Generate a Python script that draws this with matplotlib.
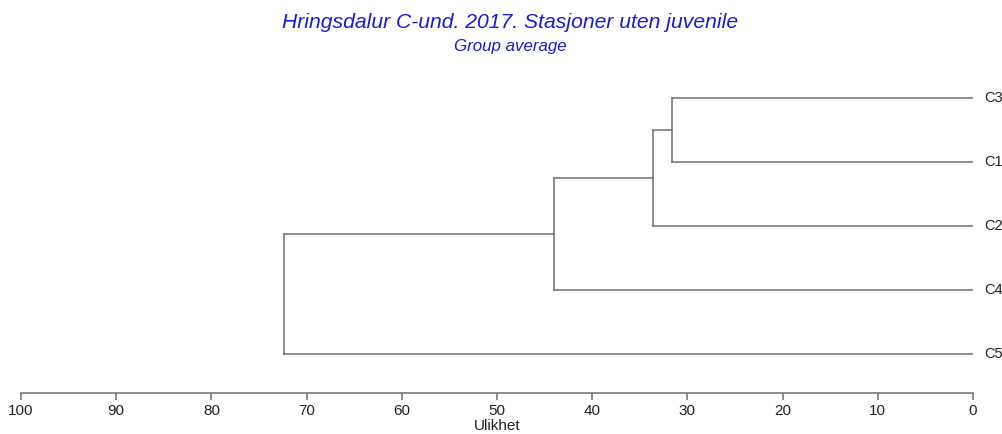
import matplotlib
matplotlib.use("Agg")
import matplotlib.pyplot as plt
import numpy as np

plt.rcParams['font.family'] = ['Liberation Sans', 'DejaVu Sans']

# stations in leaf order, top to bottom
leaves = ["C3", "C1", "C2", "C4", "C5"]
# linkage: (cluster a, cluster b, dissimilarity); new clusters numbered from len(leaves)
merges = [
    (0, 1, 31.6),
    (5, 2, 33.6),
    (6, 3, 44.0),
    (7, 4, 72.4),
]
ticks = [100, 90, 80, 70, 60, 50, 40, 30, 20, 10, 0]

line_col = '#6e6e6e'
title_col = '#1a1ad9'
text_col = '#222222'

fig = plt.figure(figsize=(10.03, 4.34), dpi=100)
ax = fig.add_axes([21 / 1003, 41 / 434, 952 / 1003, 327 / 434])

# position and height of every cluster
pos = {i: float(i) for i in range(len(leaves))}
hgt = {i: 0.0 for i in range(len(leaves))}
for k, (a, b, d) in enumerate(merges):
    for c in (a, b):
        ax.plot([hgt[c], d], [pos[c], pos[c]], color=line_col, lw=1.1)
    ax.plot([d, d], [pos[a], pos[b]], color=line_col, lw=1.1)
    new = len(leaves) + k
    pos[new] = (pos[a] + pos[b]) / 2
    hgt[new] = d

for i, name in enumerate(leaves):
    ax.text(-1.2, i, name, ha='left', va='center', fontsize=10.5, color=text_col, clip_on=False)

ax.set_xlim(100, 0)
ax.set_ylim(4.61, -0.5)
ax.set_xticks(ticks)
ax.set_xticklabels([str(t) for t in ticks])
ax.set_yticks([])
for s in ['top', 'right', 'left']:
    ax.spines[s].set_visible(False)
ax.spines['bottom'].set_color(line_col)
ax.spines['bottom'].set_linewidth(1.1)
ax.tick_params(axis='x', direction='out', length=5, width=1.1, color=line_col,
               pad=3, labelsize=11, labelcolor=text_col)

# axis title sits just under the tick labels
fig.text(497 / 1003, 1 - 426 / 434, 'Ulikhet', ha='center', va='center',
         fontsize=11, color=text_col)

fig.text(510 / 1003, 1 - 22 / 434, 'Hringsdalur C-und. 2017. Stasjoner uten juvenile',
         ha='center', va='center', fontsize=15.2, style='italic', color=title_col)
fig.text(510 / 1003, 1 - 47 / 434, 'Group average',
         ha='center', va='center', fontsize=12.2, style='italic', color=title_col)

fig.savefig('out.png', dpi=100)
